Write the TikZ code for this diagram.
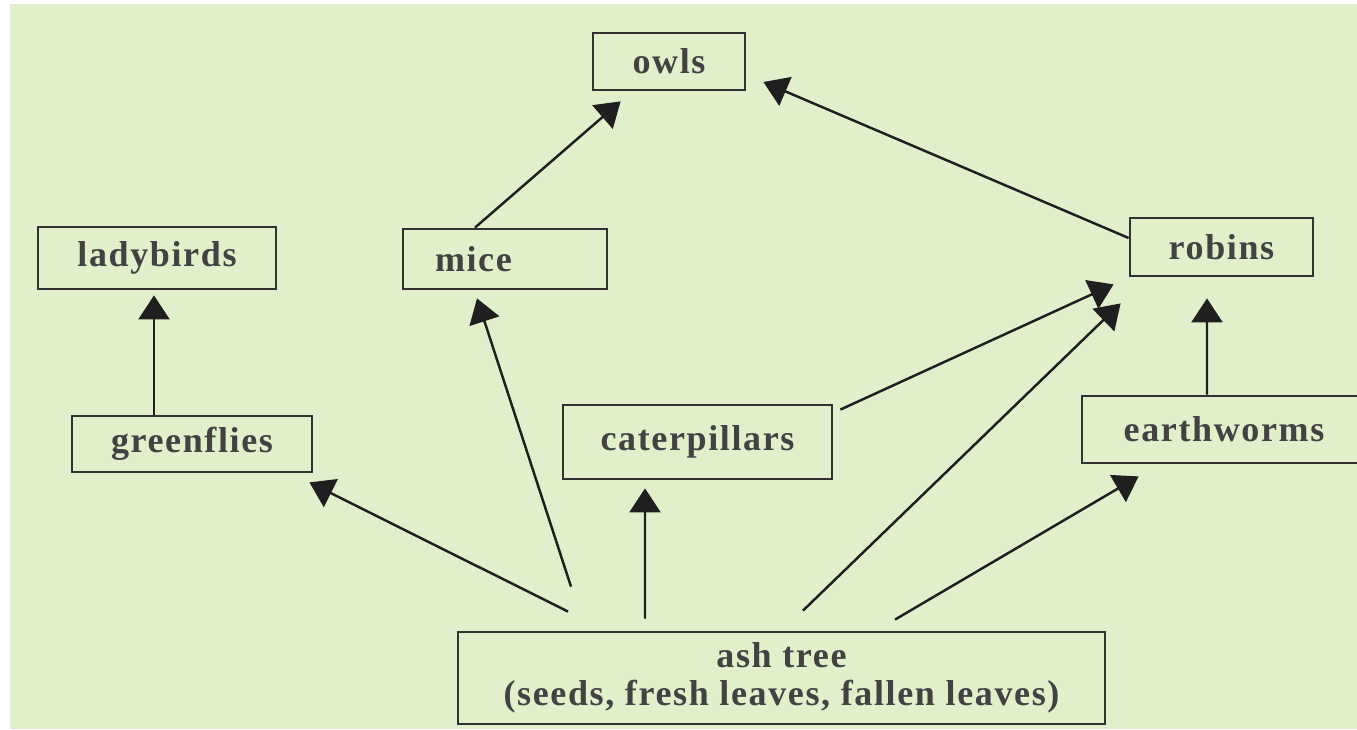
\documentclass[tikz,border=0pt]{standalone}
\usepackage{fontspec}
\setmainfont[LetterSpace=4.5]{Liberation Serif}
\usetikzlibrary{positioning, calc, arrows.meta}
\tikzset{>=latex}
\definecolor{leafbg}{RGB}{225,240,202}
\definecolor{boxline}{RGB}{50,50,50}
\definecolor{labelgray}{RGB}{66,66,66}

\begin{document}
\begin{tikzpicture}
    [
        food_box/.style={rectangle, draw=boxline, line width=1.6pt, fill=none, inner sep=0pt,
                         text=labelgray, font=\fontsize{20.5}{21}\selectfont\bfseries},
        eats/.style={draw=black!88, line width=1.4pt, -{Triangle[length=0.48cm, width=0.62cm]}},
    ]

  \useasboundingbox (0,0) rectangle (27.14,14.58);
  \fill[leafbg] (0.2,0) rectangle (27.2,14.5);

  \node[food_box, minimum width=3.04cm, minimum height=1.14cm] (owls) at (13.38,13.35) {owls};
  \node[food_box, minimum width=4.76cm, minimum height=1.24cm] (ladybirds) at (3.14,9.42) {ladybirds};
  \node[food_box, minimum width=4.08cm, minimum height=1.20cm] (mice) at (10.10,9.40) {\makebox[2.8cm][l]{mice}};
  \node[food_box, minimum width=3.66cm, minimum height=1.16cm] (robins) at (24.43,9.64) {robins};
  \node[food_box, minimum width=4.80cm, minimum height=1.12cm] (greenflies) at (3.84,5.70) {greenflies};
  \node[food_box, minimum width=5.38cm, minimum height=1.48cm] (caterpillars) at (13.95,5.74) {caterpillars};
  \node[food_box, minimum width=5.68cm, minimum height=1.34cm] (earthworms) at (24.48,5.99) {earthworms};
  \node[food_box, minimum width=12.94cm, minimum height=1.84cm, align=center] (ash) at (15.63,1.02)
       {ash tree\\[1pt](seeds, fresh leaves, fallen leaves)};

  % who eats what
  \draw[eats] ([xshift=-0.76cm]greenflies.north) -- ([xshift=-0.06cm,yshift=-0.10cm]ladybirds.south);
  \draw[eats] ([xshift=-4.27cm,yshift=0.38cm]ash.north) -- ([xshift=-0.08cm,yshift=-0.18cm]greenflies.south east);
  \draw[eats] ([xshift=-4.21cm,yshift=0.88cm]ash.north) -- ([xshift=-0.56cm,yshift=-0.16cm]mice.south);
  \draw[eats] ([xshift=-2.73cm,yshift=0.24cm]ash.north) -- ([xshift=-1.05cm,yshift=-0.16cm]caterpillars.south);
  \draw[eats] ([xshift=0.43cm,yshift=0.40cm]ash.north) -- ([xshift=-0.16cm,yshift=-0.52cm]robins.south west);
  \draw[eats] ([xshift=2.27cm,yshift=0.22cm]ash.north) -- ([xshift=1.16cm,yshift=-0.24cm]earthworms.south west);
  \draw[eats] ([xshift=0.14cm,yshift=-0.12cm]caterpillars.north east) -- ([xshift=-0.30cm,yshift=-0.14cm]robins.south west);
  \draw[eats] ([xshift=-0.34cm]earthworms.north) -- ([xshift=-0.29cm,yshift=-0.42cm]robins.south);
  \draw[eats] ([xshift=-0.60cm]mice.north) -- ([xshift=0.58cm,yshift=-0.20cm]owls.south west);
  \draw[eats] ([yshift=0.18cm]robins.west) -- ([xshift=0.34cm,yshift=-0.41cm]owls.east);
\end{tikzpicture}
\end{document}
